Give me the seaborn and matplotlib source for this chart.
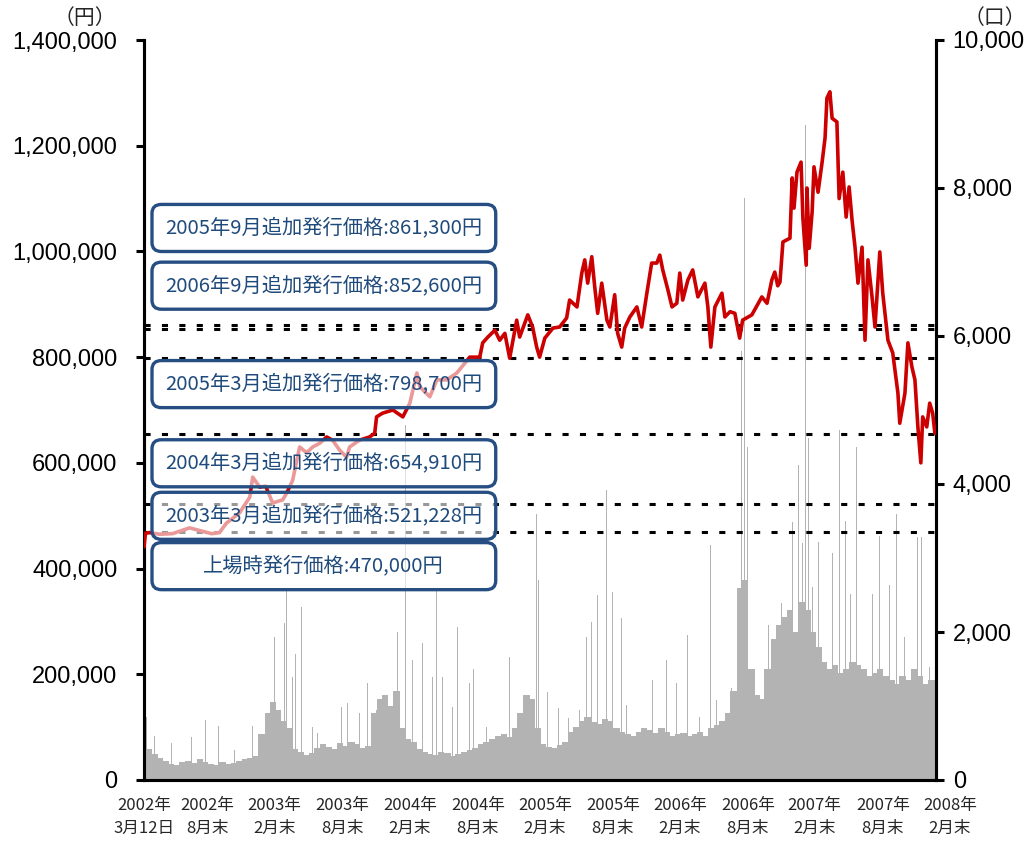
import pandas as pd
import matplotlib
matplotlib.use('Agg')
import matplotlib.pyplot as plt
import matplotlib.dates as mdates
from matplotlib.patches import FancyBboxPatch
import seaborn as sns

# price (円)
price_dates = [
    '2002-03-12', '2002-03-16', '2002-03-27', '2002-04-23', '2002-05-28', '2002-07-13',
    '2002-08-09', '2002-09-11', '2002-10-02', '2002-10-21', '2002-11-25', '2002-12-23',
    '2002-12-31', '2003-01-19', '2003-02-04', '2003-02-23', '2003-03-22', '2003-04-02',
    '2003-04-18', '2003-05-07', '2003-05-26', '2003-06-11', '2003-06-30', '2003-07-19',
    '2003-08-04', '2003-08-23', '2003-09-11', '2003-09-19', '2003-10-16', '2003-11-12',
    '2003-11-26', '2003-12-01', '2003-12-17', '2004-01-14', '2004-02-10', '2004-02-29',
    '2004-03-19', '2004-03-27', '2004-04-23', '2004-05-12', '2004-06-08', '2004-07-05',
    '2004-08-09', '2004-09-05', '2004-09-13', '2004-09-27', '2004-10-16', '2004-10-29',
    '2004-11-12', '2004-11-25', '2004-12-14', '2004-12-22', '2005-01-13', '2005-01-26',
    '2005-02-06', '2005-02-14', '2005-02-28', '2005-03-22', '2005-04-09', '2005-04-28',
    '2005-05-06', '2005-05-26', '2005-06-08', '2005-06-16', '2005-06-24', '2005-07-05',
    '2005-07-13', '2005-07-21', '2005-08-01', '2005-08-15', '2005-08-23', '2005-09-05',
    '2005-09-13', '2005-09-24', '2005-10-02', '2005-10-16', '2005-11-04', '2005-11-17',
    '2005-12-01', '2005-12-14', '2005-12-28', '2006-01-05', '2006-01-13', '2006-01-27',
    '2006-02-07', '2006-02-20', '2006-02-28', '2006-03-08', '2006-03-22', '2006-04-04',
    '2006-04-18', '2006-05-07', '2006-05-15', '2006-05-23', '2006-06-03', '2006-06-22',
    '2006-06-30', '2006-07-14', '2006-07-27', '2006-08-09', '2006-08-17', '2006-09-11',
    '2006-10-08', '2006-10-22', '2006-11-04', '2006-11-12', '2006-11-20', '2006-11-26',
    '2006-12-04', '2006-12-23', '2006-12-29', '2007-01-03', '2007-01-11', '2007-01-22',
    '2007-01-27', '2007-02-05', '2007-02-07', '2007-02-13', '2007-02-21', '2007-02-26',
    '2007-03-09', '2007-03-20', '2007-03-28', '2007-04-02', '2007-04-10', '2007-04-16',
    '2007-04-29', '2007-05-05', '2007-05-15', '2007-05-24', '2007-06-01', '2007-06-09',
    '2007-06-17', '2007-06-25', '2007-07-06', '2007-07-14', '2007-07-22', '2007-08-02',
    '2007-08-10', '2007-08-23', '2007-08-31', '2007-09-14', '2007-09-27', '2007-10-11',
    '2007-10-16', '2007-10-30', '2007-11-07', '2007-11-18', '2007-11-26', '2007-12-04',
    '2007-12-12', '2007-12-17', '2007-12-28', '2008-01-05', '2008-01-13', '2008-01-19',
]
price_values = [
    441000, 467000, 468000, 465000, 466000, 477000,
    472000, 466000, 468000, 486000, 505000, 535000,
    573000, 554000, 556000, 524000, 530000, 543000,
    567000, 630000, 619000, 630000, 637000, 649000,
    643000, 624000, 611000, 630000, 643000, 649000,
    656000, 687000, 694000, 700000, 687000, 713000,
    770000, 744000, 725000, 757000, 757000, 770000,
    800000, 800000, 827000, 838000, 851000, 832000,
    845000, 798000, 870000, 838000, 880000, 857000,
    819000, 800000, 836000, 855000, 857000, 874000,
    908000, 895000, 959000, 984000, 940000, 990000,
    933000, 883000, 940000, 870000, 857000, 918000,
    845000, 819000, 855000, 876000, 895000, 857000,
    921000, 978000, 978000, 993000, 965000, 927000,
    895000, 902000, 959000, 908000, 946000, 965000,
    914000, 940000, 895000, 819000, 895000, 921000,
    876000, 886000, 883000, 836000, 870000, 880000,
    914000, 902000, 946000, 961000, 935000, 942000,
    1018000, 1025000, 1139000, 1082000, 1150000, 1169000,
    1063000, 974000, 1120000, 1006000, 1075000, 1160000,
    1112000, 1169000, 1215000, 1290000, 1302000, 1252000,
    1245000, 1100000, 1150000, 1065000, 1122000, 1059000,
    1008000, 940000, 1008000, 832000, 984000, 914000,
    857000, 999000, 921000, 832000, 808000, 732000,
    675000, 732000, 827000, 781000, 757000, 668000,
    600000, 687000, 668000, 713000, 694000, 656000,
]

# volume (口), typical level per half month, 2002-03 .. 2008-01
volume_base = [
    550, 420, 350, 300, 260, 220, 200, 240, 260, 230, 280, 250,
    220, 200, 240, 210, 230, 260, 280, 300,
    320, 620, 900, 1050, 950, 800, 700, 420, 380, 340, 360, 430,
    480, 450, 420, 500, 460, 520, 480, 430, 460, 900, 1100, 1150,
    1000, 1200, 700, 560, 520, 420, 380, 350, 340, 380, 360, 330,
    350, 380, 400, 430, 480, 520, 550, 600, 620, 580, 700, 900,
    1150, 1100, 700, 480, 450, 430, 470, 520, 650, 720, 800, 850,
    780, 760, 820, 800, 700, 650, 620, 600, 650, 700, 680, 640,
    700, 650, 600, 620, 640, 600, 620, 650, 600, 700, 750, 800,
    900, 1200, 2600, 2700, 1500, 1150, 1100, 1500, 1900, 2100, 2200, 2300,
    2000, 2400, 2300, 2000, 1800, 1600, 1500, 1550, 1450, 1500, 1600, 1550,
    1500, 1400, 1450, 1500, 1400, 1350, 1300, 1400, 1350, 1500, 1400, 1300,
    1350, 1300,
]

# single high-volume days
spike_dates = [
    '2002-03-19', '2002-04-10', '2002-05-25', '2002-07-19', '2002-08-25', '2002-09-30',
    '2002-11-12', '2002-12-31', '2003-02-07', '2003-02-23', '2003-02-28', '2003-03-27',
    '2003-04-02', '2003-04-18', '2003-04-26', '2003-05-12', '2003-06-11', '2003-06-25',
    '2003-08-28', '2003-09-14', '2003-10-16', '2003-11-07', '2003-12-01', '2003-12-31',
    '2004-01-27', '2004-02-05', '2004-02-17', '2004-03-08', '2004-03-22', '2004-04-04',
    '2004-05-01', '2004-05-12', '2004-05-28', '2004-06-24', '2004-07-08', '2004-08-09',
    '2004-08-20', '2004-09-24', '2004-10-21', '2004-11-25', '2004-12-30', '2005-02-06',
    '2005-02-11', '2005-03-08', '2005-04-07', '2005-05-04', '2005-06-03', '2005-06-22',
    '2005-07-05', '2005-07-21', '2005-08-15', '2005-08-31', '2005-09-24', '2005-10-08',
    '2005-11-07', '2005-11-26', '2005-12-17', '2006-01-24', '2006-02-20', '2006-03-22',
    '2006-04-02', '2006-04-23', '2006-05-21', '2006-06-08', '2006-07-19', '2006-08-04',
    '2006-08-15', '2006-08-23', '2006-08-31', '2006-09-06', '2006-10-03', '2006-10-27',
    '2006-10-30', '2006-12-01', '2006-12-15', '2006-12-29', '2007-01-15', '2007-01-27',
    '2007-02-02', '2007-02-12', '2007-02-23', '2007-03-11', '2007-03-25', '2007-04-16',
    '2007-05-07', '2007-05-23', '2007-06-06', '2007-06-20', '2007-06-25', '2007-07-14',
    '2007-08-04', '2007-08-23', '2007-08-29', '2007-09-17', '2007-10-08', '2007-10-30',
    '2007-12-04', '2007-12-15', '2008-01-05',
]
spike_values = [
    850, 600, 500, 580, 810, 730,
    400, 730, 500, 850, 1930, 2120,
    2570, 1390, 1700, 2340, 720, 630,
    990, 1040, 900, 1310, 950, 730,
    2000, 5100, 4800, 1620, 2340, 1850,
    1390, 2570, 1390, 990, 2070, 1310,
    1500, 720, 580, 1660, 900, 3600,
    2700, 1190, 970, 840, 950, 1930,
    2130, 2500, 3920, 2540, 2190, 1010,
    1310, 1350, 1350, 1620, 1310, 1960,
    1390, 850, 3180, 1080, 1240, 1930,
    5800, 7860, 4500, 1930, 1580, 2090,
    3150, 2390, 3560, 3490, 4260, 3200,
    8850, 4620, 2610, 3220, 4010, 3070,
    4730, 3500, 2520, 4500, 3200, 4820,
    2520, 3300, 2880, 2640, 3600, 1930,
    3280, 3280, 1530,
]

issue_labels = [
    '2005年9月追加発行価格:861,300円',
    '2006年9月追加発行価格:852,600円',
    '2005年3月追加発行価格:798,700円',
    '2004年3月追加発行価格:654,910円',
    '2003年3月追加発行価格:521,228円',
    '上場時発行価格:470,000円',
]
issue_prices = [861300, 852600, 798700, 654910, 521228, 470000]

x_tick_dates = ['2002-03-12', '2002-08-31', '2003-02-28', '2003-08-31', '2004-02-29',
                '2004-08-31', '2005-02-28', '2005-08-31', '2006-02-28', '2006-08-31',
                '2007-02-28', '2007-08-31', '2008-02-29']
x_tick_labels = ['2002年\n3月12日', '2002年\n8月末', '2003年\n2月末', '2003年\n8月末',
                 '2004年\n2月末', '2004年\n8月末', '2005年\n2月末', '2005年\n8月末',
                 '2006年\n2月末', '2006年\n8月末', '2007年\n2月末', '2007年\n8月末',
                 '2008年\n2月末']
price_ticks = [0, 200000, 400000, 600000, 800000, 1000000, 1200000, 1400000]
price_tick_labels = ['0', '200,000', '400,000', '600,000', '800,000',
                     '1,000,000', '1,200,000', '1,400,000']
volume_ticks = [0, 2000, 4000, 6000, 8000, 10000]
volume_tick_labels = ['0', '2,000', '4,000', '6,000', '8,000', '10,000']

sns.set_theme(style='white')
plt.rcParams['font.family'] = ['Liberation Sans', 'Noto Sans CJK JP']
cjk = ['Noto Sans CJK JP', 'DejaVu Sans']

price = pd.DataFrame({'date': pd.to_datetime(price_dates), 'price': price_values})
vol_dates = pd.date_range('2002-03-01', periods=len(volume_base), freq='SMS')
spikes = pd.to_datetime(spike_dates)
tick_dates = pd.to_datetime(x_tick_dates)

fig = plt.figure(figsize=(10.27, 8.42), dpi=100)
ax = fig.add_axes([144 / 1027, 62 / 842, 792 / 1027, 740 / 842])
ax_v = ax.twinx()

# volume on the right axis, behind the price line
ax_v.bar(vol_dates, volume_base, width=17.5, align='edge', color='#b3b3b3', linewidth=0)
ax_v.bar(spikes, spike_values, width=2.5, color='#b3b3b3', linewidth=0)
ax_v.set_ylim(0, 10000)
ax_v.set_yticks(volume_ticks)
ax_v.set_yticklabels(volume_tick_labels)

ax.set_zorder(ax_v.get_zorder() + 1)
ax.patch.set_visible(False)

for p in issue_prices:
    ax.axhline(p, color='black', lw=2.2, ls=(0, (2, 3.7)), zorder=3)

sns.lineplot(data=price, x='date', y='price', ax=ax, color='#cc0000', lw=2.6, zorder=4)

ax.set_ylim(0, 1400000)
ax.set_yticks(price_ticks)
ax.set_yticklabels(price_tick_labels)
ax.set_xlim(pd.Timestamp('2002-03-12'), pd.Timestamp('2008-01-22'))
ax.set_xlabel('')
ax.set_ylabel('')

ax.set_xticks(tick_dates[:-1])
ax.set_xticklabels(x_tick_labels[:-1], family=cjk, fontsize=12, linespacing=1.5)
ax.tick_params(axis='x', length=0, pad=12)
ax.annotate(x_tick_labels[-1], xy=(mdates.date2num(tick_dates[-1]), 0),
            xycoords=('data', 'axes fraction'), xytext=(0, -12), textcoords='offset points',
            ha='center', va='top', fontsize=12, family=cjk, linespacing=1.5,
            annotation_clip=False)

for a, pad in ((ax, 13), (ax_v, 6)):
    a.tick_params(axis='y', direction='out', length=6, width=2.2, labelsize=17,
                  pad=pad, colors='black')
    a.spines['top'].set_visible(False)
    for s in ('left', 'right', 'bottom'):
        a.spines[s].set_color('black')
        a.spines[s].set_linewidth(2.2)
    a.grid(False)

# label boxes
box_centers = [0.746, 0.668, 0.535, 0.428, 0.357, 0.289]
for label, yc in zip(issue_labels, box_centers):
    box = FancyBboxPatch((0.0101, yc - 0.0318), 0.434, 0.0636,
                         boxstyle='round,pad=0,rounding_size=0.012',
                         transform=ax.transAxes, facecolor=(1, 1, 1, 0.6),
                         edgecolor='#264e82', lw=2.4, zorder=6)
    ax.add_patch(box)
    ax.text(0.227, yc, label, transform=ax.transAxes, ha='center', va='center',
            fontsize=14.6, color='#1f4a7c', family=cjk, zorder=7)

fig.text(85 / 1027, 1 - 18 / 842, '（円）', ha='center', va='center', fontsize=15, family=cjk)
fig.text(995 / 1027, 1 - 18 / 842, '（口）', ha='center', va='center', fontsize=15, family=cjk)

fig.savefig('out.png', dpi=100)
